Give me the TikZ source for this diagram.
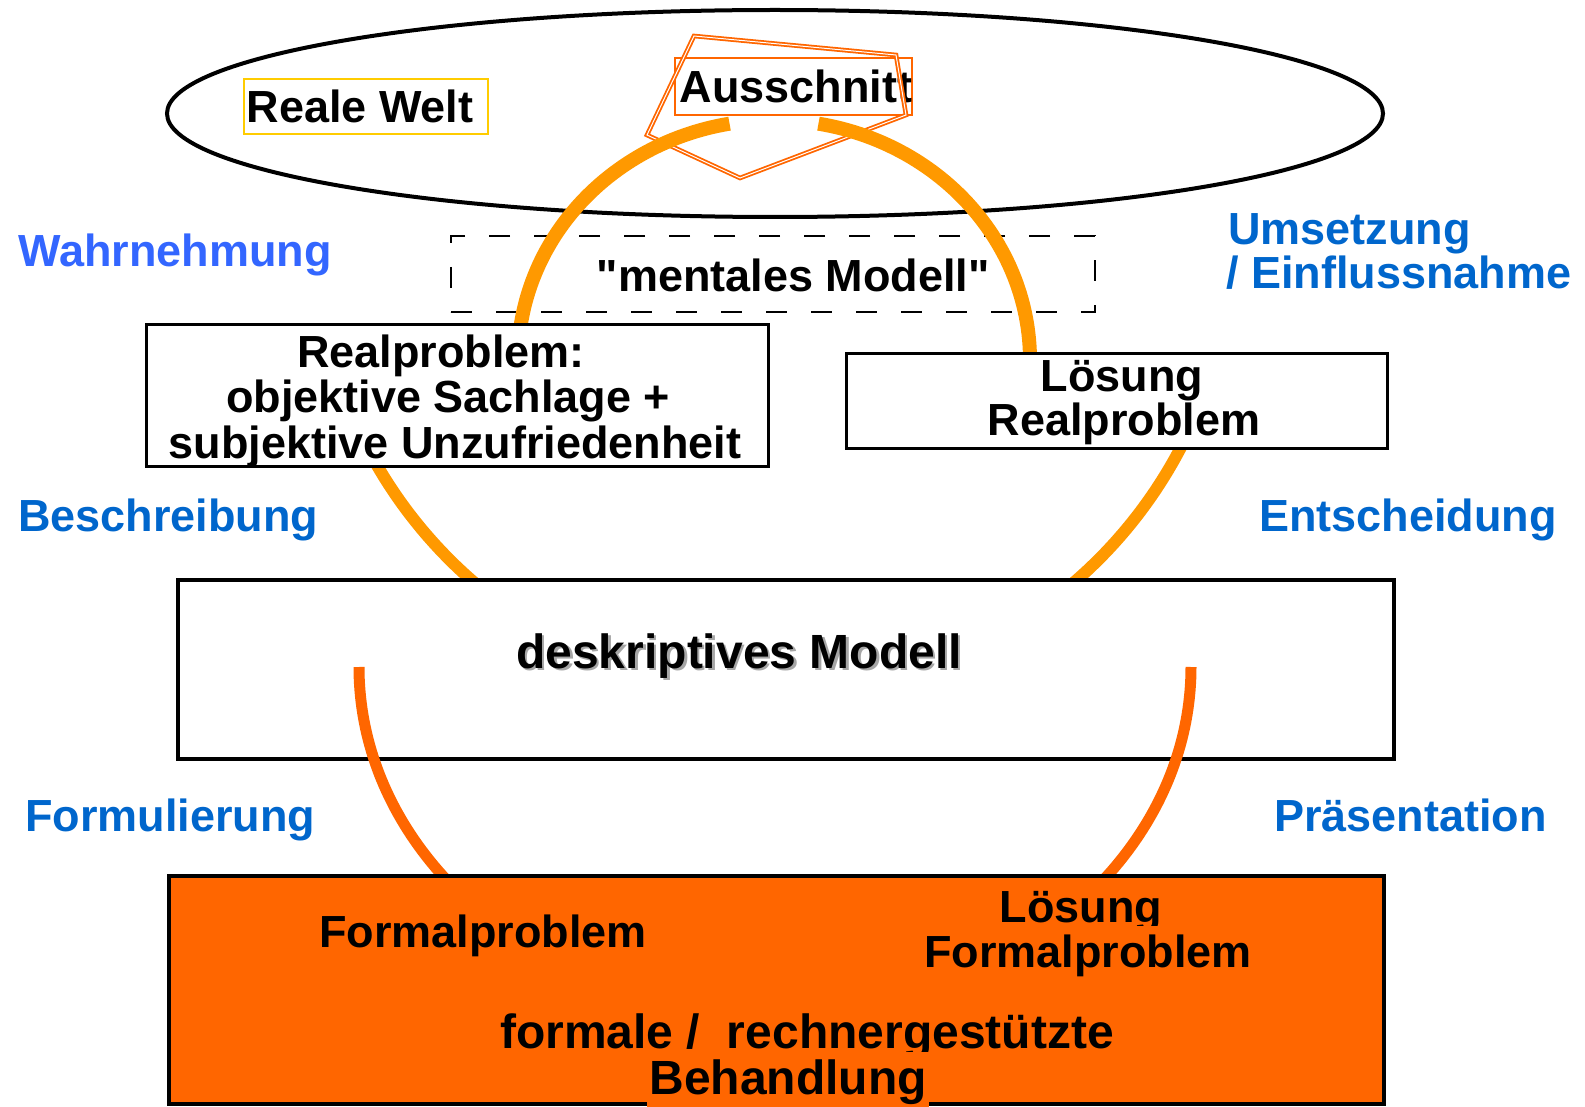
\documentclass[tikz,border=0pt]{standalone}
\usepackage{fontspec}
\setmainfont{Liberation Sans}[Ligatures=TeXOff]
\usetikzlibrary{shapes.geometric}
\definecolor{arcA}{HTML}{FF9900}
\definecolor{arcB}{HTML}{FF6600}
\definecolor{fillB}{HTML}{FF6600}
\definecolor{blueA}{HTML}{3366FF}
\definecolor{blueB}{HTML}{0066CC}
\definecolor{yel}{HTML}{FFCC00}
\begin{document}
\begin{tikzpicture}[x=1pt,y=-1pt,
  txt/.style={inner sep=0pt, font=\fontsize{45}{54}\selectfont\bfseries, anchor=base},
  bigtxt/.style={inner sep=0pt, font=\fontsize{48}{56}\selectfont\bfseries, anchor=base},
  lbl/.style={inner sep=0pt, font=\fontsize{45}{54}\selectfont\bfseries, anchor=base west},
  boxnode/.style={draw, rectangle, inner sep=0pt, fill=white},
  upperarc/.style={arcA, line width=14pt},
  midarc/.style={arcA, line width=12pt},
  lowarc/.style={arcB, line width=11pt}]
\useasboundingbox (0,0) rectangle (1585,1107);

% Reale Welt ellipse
\node[ellipse, draw, line width=4pt, minimum width=1216pt, minimum height=207pt, inner sep=0pt] (welt) at (775,113.5) {};

% Reale Welt label
\node[boxnode, draw=yel, fill=none, line width=2pt, minimum width=244.6pt, minimum height=55pt] (realeBox) at (366,106.5) {};
\node[lbl] (realeTxt) at (246.5,123) {Reale Welt};

% Ausschnitt
\node[boxnode, draw=arcB, fill=none, line width=2pt, minimum width=237pt, minimum height=57pt] (ausBox) at (793.5,86.5) {};
\node[lbl] (ausTxt) at (679.5,102.5) {Ausschnitt};
\coordinate (p1) at (694,36);
\coordinate (p2) at (896,55);
\coordinate (p3) at (906,115);
\coordinate (p4) at (740,178);
\coordinate (p5) at (647,135);
\draw[arcB, line width=1.8pt, double=white, double distance=1pt] (p1) -- (p2) -- (p3) -- (p4) -- (p5) -- cycle;

% mentales Modell
\node[boxnode, fill=none, line width=2.5pt, dash pattern=on 21pt off 24pt, minimum width=644pt, minimum height=76pt] (mentBox) at (773,274) {};
\node[lbl] (mentTxt) at (596.5,292) {"mentales Modell"};

% upper arcs
\draw[upperarc] plot[domain=182:260, samples=60] ({774+256*cos(\x)},{360+240*sin(\x)});
\draw[upperarc] plot[domain=280:362, samples=60] ({774+256*cos(\x)},{360+240*sin(\x)});

% middle arcs
\draw[midarc] plot[domain=130:152, samples=40] ({774+459*cos(\x)},{235+459*sin(\x)});
\draw[midarc] plot[domain=26:50, samples=40] ({774+459*cos(\x)},{235+459*sin(\x)});

% Realproblem box
\node[boxnode, line width=3pt, minimum width=622pt, minimum height=141pt] (realBox) at (457,395.5) {};
\node[txt] (real1) at (441,367) {Realproblem:};
\node[txt] (real2) at (448,412.5) {objektive Sachlage +};
\node[txt] (real3) at (455,458) {subjektive Unzufriedenheit};

% Loesung Realproblem box
\node[boxnode, line width=3pt, minimum width=541pt, minimum height=95pt] (loesBox) at (1116.5,400.5) {};
\node[txt] (loes1) at (1122,391) {Lösung};
\node[txt] (loes2) at (1124,435) {Realproblem};

% deskriptives Modell
\node[boxnode, line width=4pt, minimum width=1216pt, minimum height=179pt] (deskBox) at (786,669.5) {};
\node[bigtxt, text=black!35] (deskShadow) at (741.5,670.5) {deskriptives Modell};
\node[bigtxt] (deskTxt) at (739,668) {deskriptives Modell};

% lower arcs
\draw[lowarc] plot[domain=141:180, samples=40] ({775+416*cos(\x)},{667+347*sin(\x)});
\draw[lowarc] plot[domain=0:39, samples=40] ({775+416*cos(\x)},{667+347*sin(\x)});

% formal box
\node[boxnode, fill=fillB, line width=4pt, minimum width=1215pt, minimum height=228pt] (formBox) at (776.5,990) {};
\node[txt] (form1) at (483,947) {Formalproblem};
\node[txt] (form2) at (1081,922) {Lösung};
\node[txt, fill=fillB, inner ysep=8pt, inner xsep=3pt] (form3) at (1088,967) {Formalproblem};
\node[bigtxt] (form4) at (807,1048) {formale /~ rechnergestützte};
\node[bigtxt, fill=fillB, inner ysep=7pt, inner xsep=2pt] (form5) at (788,1094) {Behandlung};

% side labels
\node[lbl, text=blueA] (wahr) at (18,267) {Wahrnehmung};
\node[lbl, text=blueB] (umse1) at (1228,244.5) {Umsetzung};
\node[lbl, text=blueB] (umse2) at (1226,289) {/ Einflussnahme};
\node[lbl, text=blueB] (besch) at (18,531) {Beschreibung};
\node[lbl, text=blueB] (ents) at (1259,531) {Entscheidung};
\node[lbl, text=blueB] (formu) at (25,831) {Formulierung};
\node[lbl, text=blueB] (praes) at (1274,831) {Präsentation};
\end{tikzpicture}
\end{document}
